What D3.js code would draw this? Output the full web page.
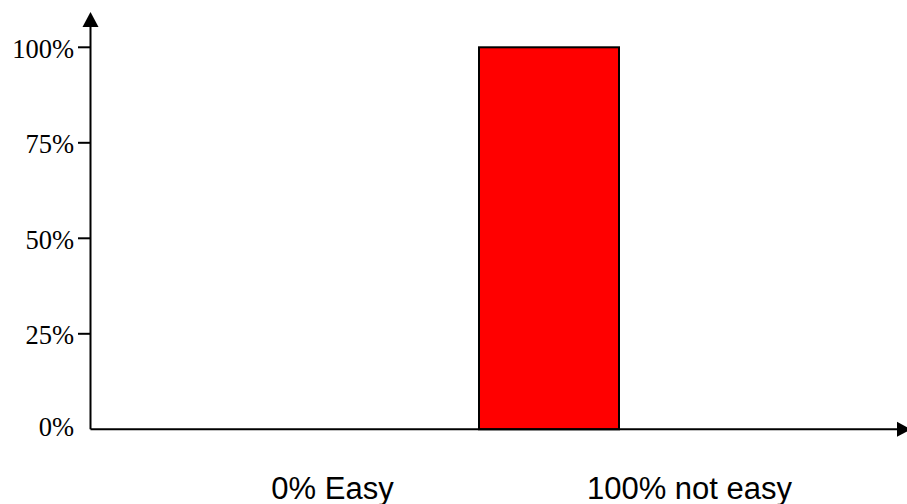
<!DOCTYPE html>
<html>
<head>
<meta charset="utf-8">
<script src="https://cdn.jsdelivr.net/npm/d3@7"></script>
<style>
  html, body { margin: 0; padding: 0; background: #fff; }
  svg { display: block; }
</style>
</head>
<body>
<svg id="chart" width="907" height="504"></svg>
<script>
const categories = ["0% Easy", "100% not easy"];
const values = [0, 1];
const yTicks = [0, 0.25, 0.5, 0.75, 1];
const yTickLabels = ["0%", "25%", "50%", "75%", "100%"];

const svg = d3.select("#chart");
const axisX = 90.5, axisY = 429.3;

const y = d3.scaleLinear().domain([0, 1]).range([axisY, 47.3]);
const xBar = d3.scalePoint().domain(categories).range([191, 549]);
const xLabel = d3.scalePoint().domain(categories).range([332.5, 689.5]);
const barW = 140;

// bars
svg.selectAll("rect.bar").data(categories.map((c, i) => ({c, v: values[i]})).filter(d => d.v > 0))
  .enter().append("rect")
  .attr("class", "bar")
  .attr("x", d => xBar(d.c) - barW / 2)
  .attr("y", d => y(d.v))
  .attr("width", barW)
  .attr("height", d => y(0) - y(d.v))
  .attr("fill", "#ff0000")
  .attr("stroke", "#000")
  .attr("stroke-width", 2);

// y axis line + arrow
svg.append("line").attr("x1", axisX).attr("x2", axisX).attr("y1", axisY).attr("y2", 26)
  .attr("stroke", "#000").attr("stroke-width", 2);
svg.append("path").attr("d", `M${axisX},12 L${axisX - 8},27 L${axisX + 8},27 Z`).attr("fill", "#000");

// x axis line + arrow
svg.append("line").attr("x1", axisX).attr("x2", 898).attr("y1", axisY).attr("y2", axisY)
  .attr("stroke", "#000").attr("stroke-width", 2);
svg.append("path").attr("d", `M911,${axisY} L897,${axisY - 7.5} L897,${axisY + 7.5} Z`).attr("fill", "#000");

// y ticks and labels
const yg = svg.append("g");
yTicks.forEach((t, i) => {
  if (t > 0) {
    yg.append("line").attr("x1", 78).attr("x2", axisX).attr("y1", y(t)).attr("y2", y(t))
      .attr("stroke", "#000").attr("stroke-width", 2);
  }
  yg.append("text")
    .attr("x", 74).attr("y", y(t) + (t === 0 ? -3 : 1))
    .attr("dy", "0.35em")
    .attr("text-anchor", "end")
    .attr("font-family", "'Liberation Serif', 'Times New Roman', serif")
    .attr("font-size", "26.5px")
    .attr("fill", "#000")
    .text(yTickLabels[i]);
});

// x labels
svg.selectAll("text.xl").data(categories).enter().append("text")
  .attr("class", "xl")
  .attr("x", d => xLabel(d))
  .attr("y", 499)
  .attr("text-anchor", "middle")
  .attr("font-family", "'Liberation Sans', Arial, sans-serif")
  .attr("font-size", "31px")
  .attr("fill", "#000")
  .text(d => d);
</script>
</body>
</html>
